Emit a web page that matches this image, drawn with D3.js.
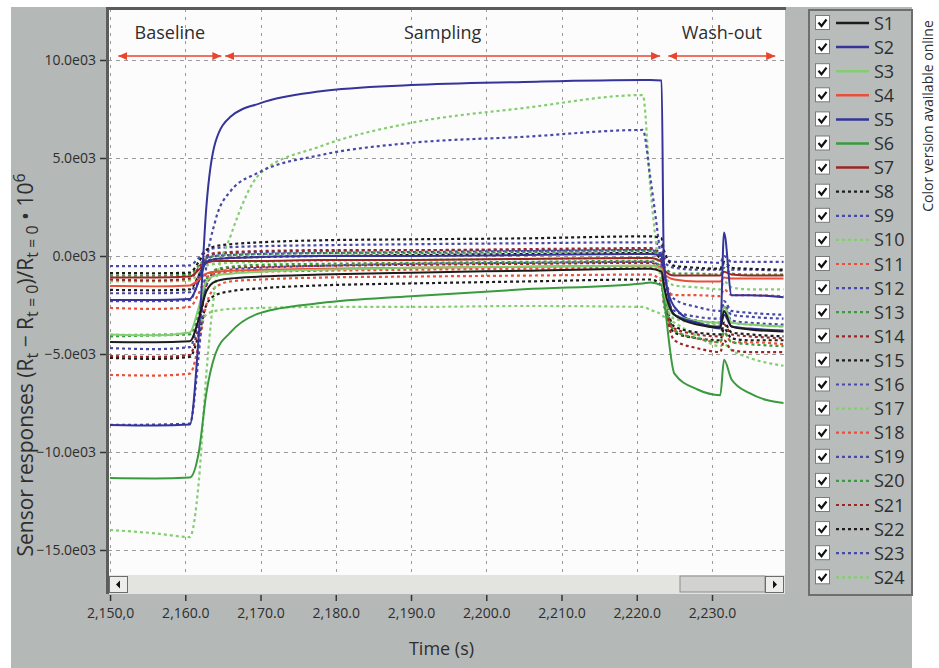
<!DOCTYPE html>
<html>
<head>
<meta charset="utf-8">
<script src="https://cdn.jsdelivr.net/npm/d3@7"></script>
<style>
	body { margin: 0; background: #fff; }
	text { font-family: "Open Sans", sans-serif; fill: #2e2e2e; }
</style>
</head>
<body>
<div id="container"></div>
<script>
const width = 939;
const height = 668;

// time stamps shared by every sensor trace (s)
const times = [2150, 2156, 2160.6, 2161.8, 2162.8, 2164, 2166, 2170, 2178, 2190, 2205,
	2220.8, 2221.8, 2223.3, 2223.6, 2225, 2228, 2231.1, 2231.6, 2232.6, 2235, 2239.5];

const sensorNames = ["S1", "S2", "S3", "S4", "S5", "S6", "S7", "S8", "S9", "S10", "S11", "S12",
	"S13", "S14", "S15", "S16", "S17", "S18", "S19", "S20", "S21", "S22", "S23", "S24"];
const sensorColors = ["#1c1c1c", "#34349a", "#84cd70", "#e8503a", "#34349a", "#3a9a3e", "#9c2626",
	"#1c1c1c", "#4848a8", "#84cd70", "#e8503a", "#4848a8", "#3a9a3e", "#9c2626",
	"#1c1c1c", "#4848a8", "#84cd70", "#e8503a", "#4848a8", "#3a9a3e", "#9c2626",
	"#1c1c1c", "#4848a8", "#84cd70"];
const sensorDotted = [false, false, false, false, false, false, false,
	true, true, true, true, true, true, true, true, true, true, true, true, true, true, true, true, true];

// responses, one value per time stamp
const s1 = [-4390, -4400, -4350, -3200, -1800, -1300, -1150, -1050, -950, -850, -750, -650, -650, -800, -1500, -3000, -3500, -3650, -2800, -3600, -3750, -3850];
const s2 = [-8620, -8650, -8600, -4000, 2500, 5800, 7100, 7800, 8400, 8720, 8880, 8980, 8980, 8950, -300, -3000, -3400, -3700, 1200, -2000, -2000, -2100];
const s3 = [-4000, -4050, -3900, -2600, -1300, -1000, -900, -800, -700, -600, -550, -500, -500, -700, -1800, -3000, -3300, -3400, -2600, -3400, -3500, -3600];
const s4 = [-1530, -1550, -1500, -1200, -900, -800, -750, -700, -650, -600, -550, -500, -500, -600, -900, -1200, -1300, -1300, -1100, -1150, -1150, -1150];
const s5 = [-2245, -2250, -2200, -1300, -300, -150, -100, -50, 0, 0, 50, 100, 100, 0, -800, -2600, -3400, -3600, -3000, -3600, -3700, -3800];
const s6 = [-11330, -11350, -11300, -10000, -7000, -5000, -3900, -2900, -2400, -2050, -1700, -1400, -1350, -1500, -2200, -6000, -6800, -7100, -5300, -6300, -7000, -7500];
const s7 = [-1100, -1100, -1050, -700, -350, -250, -250, -250, -200, -200, -150, -100, -100, -300, -700, -1000, -1000, -1000, -800, -950, -1000, -1000];
const s8 = [-870, -880, -850, -300, 300, 500, 600, 700, 800, 850, 900, 1000, 1000, 900, 300, -500, -600, -650, -300, -600, -650, -700];
const s9 = [-8620, -8600, -8550, -5000, -500, 1800, 3300, 4300, 5150, 5770, 6080, 6430, 4000, -500, -1500, -2800, -3100, -3200, -2500, -3000, -3100, -3200];
const s10 = [-13980, -14150, -14340, -11500, -6000, -1500, 1000, 4230, 5600, 6790, 7550, 8210, 3500, -1500, -2200, -3200, -3400, -3500, -2800, -3400, -3500, -3600];
const s11 = [-2650, -2700, -2600, -1900, -1100, -900, -850, -800, -750, -700, -650, -600, -600, -900, -1500, -2000, -2000, -2050, -1700, -2000, -2000, -2050];
const s12 = [-510, -520, -480, -100, 300, 400, 450, 500, 550, 600, 650, 700, 700, 500, -100, -300, -300, -350, 0, -300, -300, -300];
const s13 = [-4100, -4050, -4000, -2800, -1200, -700, -550, -450, -400, -350, -300, -250, -250, -600, -1800, -3800, -4200, -4400, -3900, -4400, -4500, -4600];
const s14 = [-1200, -1250, -1150, -600, 0, 150, 200, 250, 300, 300, 350, 400, 400, 100, -1500, -4300, -4700, -4900, -4300, -4800, -4900, -4900];
const s15 = [-1730, -1750, -1700, -1000, -300, -150, -100, -50, 0, 50, 100, 150, 150, -200, -1500, -3600, -3900, -4000, -3400, -3900, -4000, -4100];
const s16 = [-4700, -4750, -4650, -3200, -1500, -900, -700, -600, -500, -400, -350, -300, -300, -600, -1600, -3000, -3300, -3400, -2600, -3300, -3400, -3500];
const s17 = [-4030, -4000, -3950, -3500, -3000, -2800, -2700, -2650, -2600, -2600, -2550, -2600, -2750, -3000, -3100, -3400, -4100, -4600, -4500, -4800, -5200, -5600];
const s18 = [-6070, -6100, -6000, -4500, -2500, -1600, -1300, -1200, -1100, -1050, -1000, -950, -950, -1300, -2200, -3800, -4200, -4400, -3900, -4400, -4400, -4500];
const s19 = [-2300, -2300, -2250, -1200, -100, 100, 150, 200, 250, 300, 300, 350, 350, 100, -300, -600, -700, -700, -400, -700, -700, -750];
const s20 = [-1000, -1000, -950, -500, -100, 0, 50, 100, 150, 150, 200, 250, 250, 0, -500, -900, -900, -950, -600, -900, -950, -950];
const s21 = [-5100, -5150, -5050, -3500, -1500, -800, -600, -550, -500, -450, -400, -350, -350, -700, -1700, -3700, -4000, -4100, -3500, -4000, -4100, -4200];
const s22 = [-5200, -5250, -5150, -4000, -2500, -2000, -1800, -1650, -1500, -1400, -1300, -1200, -1200, -1500, -2400, -3900, -4200, -4300, -3700, -4200, -4300, -4300];
const s23 = [-1900, -1900, -1850, -1000, -200, 0, 50, 100, 150, 200, 250, 300, 300, 0, -800, -2200, -2600, -2800, -2300, -2800, -2900, -3000];
const s24 = [-1300, -1300, -1250, -900, -500, -400, -350, -300, -250, -200, -150, -100, -100, -400, -900, -1500, -1600, -1700, -1300, -1600, -1700, -1700];
const sensorValues = [s1, s2, s3, s4, s5, s6, s7, s8, s9, s10, s11, s12,
	s13, s14, s15, s16, s17, s18, s19, s20, s21, s22, s23, s24];

// axes
const xTicks = [2150, 2160, 2170, 2180, 2190, 2200, 2210, 2220, 2230];
const xTickLabels = ["2,150,0", "2,160.0", "2,170.0", "2,180.0", "2,190.0", "2,200.0", "2,210.0", "2,220.0", "2,230.0"];
const yTicks = [10000, 5000, 0, -5000, -10000, -15000];
const yTickLabels = ["10.0e03", "5.0e03", "0.0e03", "\u22125.0e03", "\u221210.0e03", "\u221215.0e03"];

// measurement phases drawn as arrows at the top
const phaseNames = ["Baseline", "Sampling", "Wash-out"];
const phaseStart = [2151.1, 2165.3, 2224.2];
const phaseEnd = [2164.8, 2223.1, 2238.4];
const phaseLevel = 10200;

const plot = {left: 108, top: 9, right: 785, bottom: 575};
const scrollHeight = 19;

const x = d3.scaleLinear()
	.domain([2149.73, 2239.7])
	.range([plot.left, plot.right]);
const y = d3.scaleLinear()
	.domain([-16276, 12602])
	.range([plot.bottom, plot.top]);

let svg = d3.select("#container")
	.append("svg")
	.attr("width", width)
	.attr("height", height);

// grey panel behind everything
svg.append("rect")
	.attr("x", 11).attr("y", 7)
	.attr("width", 901).attr("height", height - 7)
	.attr("fill", "#b4b8b7");

svg.append("defs").append("clipPath")
	.attr("id", "clip")
	.append("rect")
	.attr("x", plot.left).attr("y", plot.top)
	.attr("width", plot.right - plot.left).attr("height", plot.bottom - plot.top);

svg.select("defs").append("marker")
	.attr("id", "arrow")
	.attr("viewBox", "0 0 9 8")
	.attr("refX", 9).attr("refY", 4)
	.attr("markerWidth", 9).attr("markerHeight", 8)
	.attr("markerUnits", "userSpaceOnUse")
	.attr("orient", "auto-start-reverse")
	.append("path")
	.attr("d", "M0,0 L9,4 L0,8 Z")
	.attr("fill", "#e8442e");

svg.append("rect")
	.attr("x", plot.left).attr("y", plot.top)
	.attr("width", plot.right - plot.left).attr("height", plot.bottom - plot.top)
	.attr("fill", "#fdfcfc");

// dashed grid
let grid = svg.append("g").attr("stroke", "#9c9c9c").attr("stroke-width", 1);
grid.selectAll(".vgrid")
	.data(xTicks)
	.enter().append("line")
	.attr("x1", d => Math.round(x(d)) + 0.5).attr("x2", d => Math.round(x(d)) + 0.5)
	.attr("y1", plot.top).attr("y2", plot.bottom)
	.attr("stroke-dasharray", "3,5");
grid.selectAll(".hgrid")
	.data(yTicks)
	.enter().append("line")
	.attr("x1", plot.left).attr("x2", plot.right)
	.attr("y1", d => Math.round(y(d)) + 0.5).attr("y2", d => Math.round(y(d)) + 0.5)
	.attr("stroke-dasharray", "4,4");

// sensor traces, dotted ones first so the solid ones sit on top
const line = d3.line()
	.x((d, i) => x(times[i]))
	.y(d => y(d))
	.curve(d3.curveMonotoneX);

const order = d3.range(sensorNames.length).sort((a, b) => sensorDotted[b] - sensorDotted[a] || b - a);
svg.append("g")
	.attr("clip-path", "url(#clip)")
	.selectAll("path")
	.data(order)
	.enter().append("path")
	.attr("d", i => line(sensorValues[i]))
	.attr("fill", "none")
	.attr("stroke", i => sensorColors[i])
	.attr("stroke-width", i => sensorDotted[i] ? 2.2 : 2)
	.attr("stroke-dasharray", i => sensorDotted[i] ? "3,3" : null)
	.attr("stroke-linejoin", "round");

// phase arrows and names
let phases = svg.append("g");
phases.selectAll("line")
	.data(phaseNames)
	.enter().append("line")
	.attr("x1", (d, i) => x(phaseStart[i])).attr("x2", (d, i) => x(phaseEnd[i]))
	.attr("y1", y(phaseLevel)).attr("y2", y(phaseLevel))
	.attr("stroke", "#e8442e").attr("stroke-width", 1.5)
	.attr("marker-start", "url(#arrow)")
	.attr("marker-end", "url(#arrow)");
phases.selectAll("text")
	.data(phaseNames)
	.enter().append("text")
	.attr("x", (d, i) => (x(phaseStart[i]) + x(phaseEnd[i])) / 2)
	.attr("y", y(phaseLevel) - 17)
	.attr("text-anchor", "middle")
	.attr("font-size", 18)
	.text(d => d);

// sunken frame
svg.append("line")
	.attr("x1", plot.left - 2).attr("x2", plot.right + 1)
	.attr("y1", plot.top - 0.5).attr("y2", plot.top - 0.5)
	.attr("stroke", "#5c5c5c").attr("stroke-width", 3);
svg.append("line")
	.attr("x1", plot.left - 0.5).attr("x2", plot.left - 0.5)
	.attr("y1", plot.top - 2).attr("y2", plot.bottom + scrollHeight)
	.attr("stroke", "#5c5c5c").attr("stroke-width", 3);

// scrollbar under the plot
let scroll = svg.append("g");
scroll.append("rect")
	.attr("x", plot.left + 1).attr("y", plot.bottom)
	.attr("width", plot.right - plot.left - 1).attr("height", scrollHeight)
	.attr("fill", "#e3e3df");
scroll.append("rect")
	.attr("x", 680).attr("y", plot.bottom + 1)
	.attr("width", plot.right - 20 - 680).attr("height", scrollHeight - 3)
	.attr("fill", "#d2d2d0").attr("stroke", "#8c8c8c").attr("stroke-width", 1);
scroll.append("rect")
	.attr("x", plot.left + 1.5).attr("y", plot.bottom + 1.5)
	.attr("width", 18).attr("height", scrollHeight - 3)
	.attr("fill", "#ededeb").attr("stroke", "#6c6c6c");
scroll.append("rect")
	.attr("x", plot.right - 19.5).attr("y", plot.bottom + 1.5)
	.attr("width", 18).attr("height", scrollHeight - 3)
	.attr("fill", "#ededeb").attr("stroke", "#6c6c6c");
const my = plot.bottom + scrollHeight / 2;
scroll.append("path")
	.attr("d", `M${plot.left + 8},${my} L${plot.left + 12},${my - 4} L${plot.left + 12},${my + 4} Z`)
	.attr("fill", "#111");
scroll.append("path")
	.attr("d", `M${plot.right - 8},${my} L${plot.right - 12},${my - 4} L${plot.right - 12},${my + 4} Z`)
	.attr("fill", "#111");

// axes
let yAxis = svg.append("g")
	.attr("transform", `translate(${plot.left - 2},0)`)
	.call(d3.axisLeft(y).tickValues(yTicks).tickFormat((d, i) => yTickLabels[i]).tickSize(6).tickPadding(4));
let xAxis = svg.append("g")
	.attr("transform", `translate(0,${plot.bottom + scrollHeight + 1})`)
	.call(d3.axisBottom(x).tickValues(xTicks).tickFormat((d, i) => xTickLabels[i]).tickSize(6).tickPadding(7));
[xAxis, yAxis].forEach(a => {
	a.select(".domain").remove();
	a.selectAll(".tick line").attr("stroke", "#333").attr("stroke-width", 1.5);
	a.selectAll(".tick text")
		.attr("font-size", 14)
		.attr("font-family", "Open Sans, sans-serif")
		.attr("fill", "#2e2e2e");
});

svg.append("text")
	.attr("x", (plot.left + plot.right) / 2 - 5)
	.attr("y", 655)
	.attr("text-anchor", "middle")
	.attr("font-size", 18)
	.text("Time (s)");

// y title with sub/superscripts
let yTitle = svg.append("text")
	.attr("transform", "translate(33,365) rotate(-90)")
	.attr("text-anchor", "middle")
	.attr("font-size", 21);
const titleParts = [["Sensor responses (R", 0], ["t", 1], [" \u2212 R", 0], ["t = 0", 1], [")/R", 0],
	["t = 0", 1], [" \u2022 10", 0], ["6", 2]];
let shift = 0;
titleParts.forEach(p => {
	const target = p[1] === 1 ? 5 : (p[1] === 2 ? -8 : 0);
	yTitle.append("tspan")
		.attr("dy", target - shift)
		.attr("font-size", p[1] ? 16 : 21)
		.text(p[0]);
	shift = target;
});

// legend with check boxes
let legend = svg.append("g");
legend.append("rect")
	.attr("x", 809).attr("y", 10)
	.attr("width", 103).attr("height", 585)
	.attr("fill", "#b8bcbb")
	.attr("stroke", "#6e6e6e").attr("stroke-width", 2);
let items = legend.selectAll(".item")
	.data(sensorNames)
	.enter().append("g")
	.attr("transform", (d, i) => `translate(0,${23 + i * 24.1})`);
items.append("rect")
	.attr("x", 815.5).attr("y", -7.5)
	.attr("width", 14).attr("height", 14)
	.attr("fill", "#fff").attr("stroke", "#7a7a7a");
items.append("path")
	.attr("d", "M818.5,-0.5 L821.5,3 L826.5,-3.5")
	.attr("fill", "none").attr("stroke", "#111").attr("stroke-width", 2.2);
items.append("line")
	.attr("x1", 836).attr("x2", 869)
	.attr("y1", 0).attr("y2", 0)
	.attr("stroke", (d, i) => sensorColors[i])
	.attr("stroke-width", (d, i) => sensorDotted[i] ? 2.2 : 2.5)
	.attr("stroke-dasharray", (d, i) => sensorDotted[i] ? "3,3" : null);
items.append("text")
	.attr("x", 874).attr("y", 6.5)
	.attr("font-size", 18)
	.text(d => d);

svg.append("text")
	.attr("transform", "translate(933,116) rotate(-90)")
	.attr("text-anchor", "middle")
	.attr("font-size", 14)
	.attr("fill", "#222")
	.text("Color version available online");
</script>
</body>
</html>
